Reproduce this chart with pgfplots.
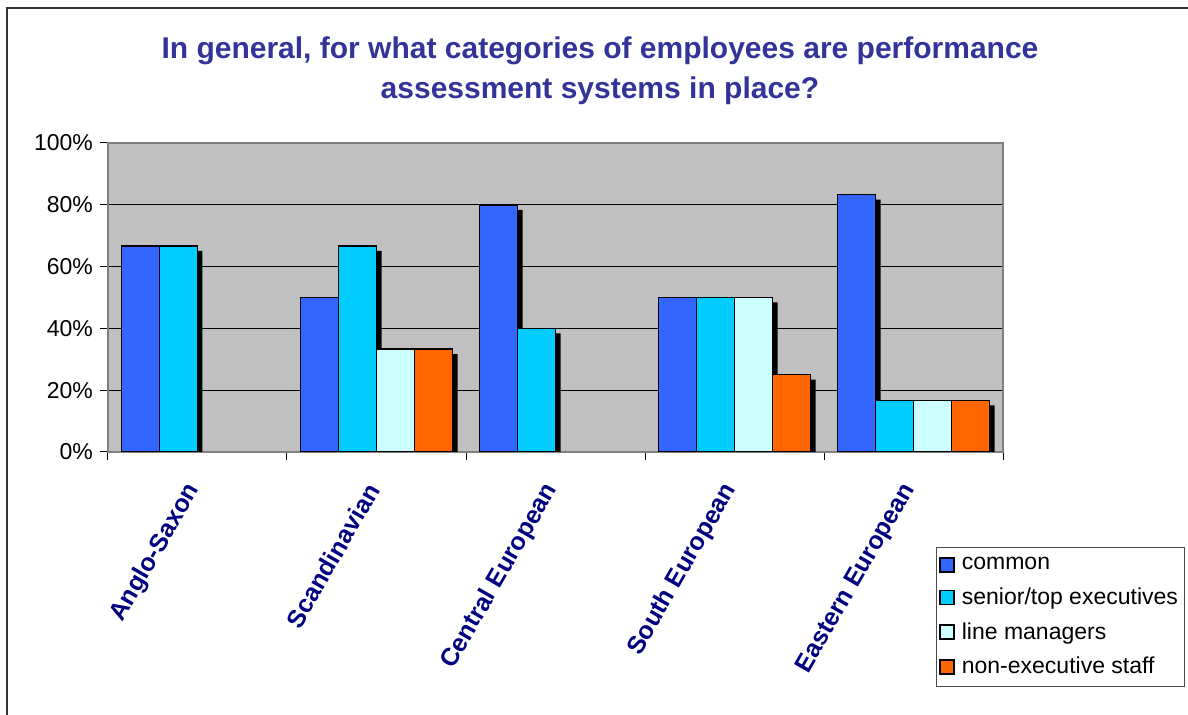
\documentclass[border=0pt]{standalone}
\usepackage{pgfplots}
\pgfplotsset{compat=1.18}
\usepackage{fontspec}
\setmainfont{Liberation Sans}
\definecolor{cCommon}{HTML}{3366FF}
\definecolor{cSenior}{HTML}{00CCFF}
\definecolor{cLine}{HTML}{CCFFFF}
\definecolor{cNon}{HTML}{FF6600}
\definecolor{plotgray}{HTML}{C0C0C0}
\definecolor{titleblue}{HTML}{333399}
\definecolor{labnavy}{HTML}{000080}
\begin{document}
\begin{tikzpicture}
\useasboundingbox (0,0) rectangle (594pt,357.5pt);
\draw[line width=1pt, color=black!80] (3.5pt,0) -- (3.5pt,353.5pt) -- (594pt,353.5pt);
\node[align=center, font=\bfseries\fontsize{15}{20}\selectfont, text=titleblue] at (300pt,322pt) {In general, for what categories of employees are performance\\assessment systems in place?};
\begin{axis}[
  at={(54pt,131.5pt)}, anchor=south west,
  scale only axis, width=447.5pt, height=154.5pt,
  xmin=-0.5, xmax=4.5, ymin=0, ymax=100,
  axis background/.style={fill=plotgray},
  axis line style={draw=gray, line width=0.75pt},
  ytick={0,20,...,100}, yticklabels={0\%,20\%,40\%,60\%,80\%,100\%},
  ymajorgrids, grid style={black, line width=0.5pt},
  xtick={-0.5,0.5,1.5,2.5,3.5,4.5}, x tick label as interval,
  xticklabels={Anglo-Saxon,Scandinavian,Central European,South European,Eastern European},
  tick align=outside, major tick length=4pt, tick style={black, line width=0.5pt},
  xtick pos=bottom, ytick pos=left,
  xticklabel shift=10pt,
  xticklabel style={rotate=60, anchor=east, font=\bfseries\fontsize{12.5}{14}\selectfont, text=labnavy},
  yticklabel style={font=\fontsize{11.5}{13}\selectfont},
  bar width=19pt,
  legsq/.style={legend image code/.code={\draw[##1,draw=black,line width=0.75pt] (0pt,-3.5pt) rectangle (7pt,3.5pt);}},
  legend cell align=left,
  legend style={at={(0.925,-0.307)}, anchor=north west, draw=black!70, line width=0.5pt,
    font=\fontsize{11.5}{13}\selectfont, row sep=3.5pt, column sep=1.5pt, inner xsep=1.5pt, inner ysep=3pt},
]
% shadows
\addplot[ybar, bar shift=-26pt, fill=black, draw=none, forget plot] coordinates {(0,65.08) (1,48.38) (2,78.38) (3,48.38) (4,81.68)};
\addplot[ybar, bar shift=-7pt, fill=black, draw=none, forget plot] coordinates {(0,65.08) (1,65.08) (2,38.38) (3,48.38) (4,15.08)};
\addplot[ybar, bar shift=12pt, fill=black, draw=none, forget plot] coordinates {(1,31.68) (3,48.38) (4,15.08)};
\addplot[ybar, bar shift=31pt, fill=black, draw=none, forget plot] coordinates {(1,31.68) (3,23.38) (4,15.08)};
% bars
\addplot[ybar, bar shift=-28.5pt, fill=cCommon, draw=black, line width=0.75pt, legsq] coordinates {(0,66.7) (1,50) (2,80) (3,50) (4,83.3)};
\addlegendentry{common}
\addplot[ybar, bar shift=-9.5pt, fill=cSenior, draw=black, line width=0.75pt, legsq] coordinates {(0,66.7) (1,66.7) (2,40) (3,50) (4,16.7)};
\addlegendentry{senior/top executives}
\addplot[ybar, bar shift=9.5pt, fill=cLine, draw=black, line width=0.75pt, legsq] coordinates {(1,33.3) (3,50) (4,16.7)};
\addlegendentry{line managers}
\addplot[ybar, bar shift=28.5pt, fill=cNon, draw=black, line width=0.75pt, legsq] coordinates {(1,33.3) (3,25) (4,16.7)};
\addlegendentry{non-executive staff}
\end{axis}
\end{tikzpicture}
\end{document}
